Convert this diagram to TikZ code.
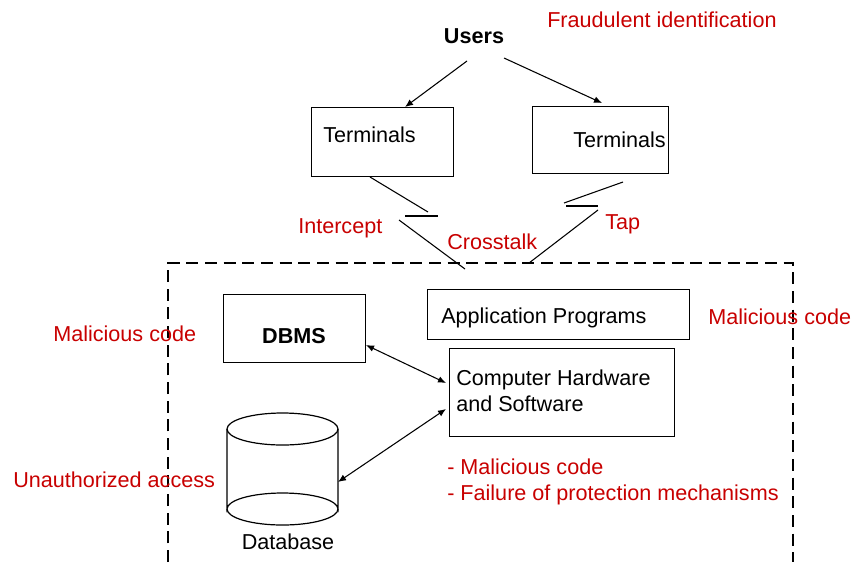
\documentclass[tikz,border=0pt]{standalone}
\usepackage{fontspec}
\setmainfont{Liberation Sans}
\usetikzlibrary{arrows.meta}
\definecolor{threat}{RGB}{200,0,0}
\begin{document}
\begin{tikzpicture}[x=0.75pt,y=-0.75pt,
  every node/.style={font=\fontsize{16.2}{21}\selectfont, inner sep=0pt},
  box/.style={draw, line width=0.9pt, anchor=north west},
  risk/.style={text=threat, anchor=base west},
  plain/.style={anchor=base west},
  link/.style={line width=0.8pt},
  arr/.style={line width=0.8pt, -{Latex[length=6pt,width=5pt]}},
  darr/.style={line width=0.8pt, {Latex[length=6pt,width=5pt]}-{Latex[length=6pt,width=5pt]}},
  fence/.style={line width=0.9pt, dash pattern=on 9pt off 5pt}]
\useasboundingbox (0,0) rectangle (852,562);

% users and terminals
\node[anchor=base] (users) at (474,43) {\bfseries Users};
\node[risk] (fraud) at (547,27) {Fraudulent identification};
\node[box, minimum width=142*0.75pt, minimum height=69*0.75pt] (term1) at (311,107) {};
\node[plain] (term1t) at (323,142) {Terminals};
\node[box, minimum width=136*0.75pt, minimum height=67*0.75pt] (term2) at (532,106) {};
\node[plain] (term2t) at (573,147) {Terminals};

\coordinate (u1) at (467,61);
\coordinate (u2) at (504,58);
\coordinate (t1in) at (405,107);
\coordinate (t2in) at (602,103);
\draw[arr] (u1) -- (t1in);
\draw[arr] (u2) -- (t2in);

% broken communication lines
\coordinate (a1) at (370,177);
\coordinate (a2) at (428,212);
\coordinate (a3) at (405,216);
\coordinate (a4) at (438,216);
\coordinate (a5) at (399,220);
\coordinate (a6) at (465,269);
\draw[link] (a1) -- (a2);
\draw[link] (a3) -- (a4);
\draw[link] (a5) -- (a6);
\coordinate (b1) at (623,182);
\coordinate (b2) at (564,203);
\coordinate (b3) at (566,206);
\coordinate (b4) at (598,206);
\coordinate (b5) at (598,210);
\coordinate (b6) at (529,263);
\draw[link] (b1) -- (b2);
\draw[link] (b3) -- (b4);
\draw[link] (b5) -- (b6);

\node[risk] (intercept) at (298,233) {Intercept};
\node[risk] (tap) at (605,229) {Tap};
\node[risk] (cross) at (447,249) {Crosstalk};

% system boundary
\coordinate (f1) at (168,562);
\coordinate (f2) at (168,263);
\coordinate (f3) at (793,263);
\coordinate (f4) at (793,562);
\draw[fence] (f1) -- (f2) -- (f3) -- (f4);

% inner components
\node[box, minimum width=142*0.75pt, minimum height=68*0.75pt] (dbms) at (223,294) {};
\node[anchor=base] (dbmst) at (294,343) {\bfseries DBMS};
\node[box, minimum width=262*0.75pt, minimum height=50*0.75pt] (app) at (427,289) {};
\node[plain] (appt) at (441,323) {Application Programs};
\node[box, minimum width=225*0.75pt, minimum height=88*0.75pt] (hw) at (449,348) {};
\node[plain] (hwt1) at (456,385) {Computer Hardware};
\node[plain] (hwt2) at (456,411) {and Software};

\node[risk] (mal1) at (53,341) {Malicious code};
\node[risk] (mal2) at (708,324) {Malicious code};
\node[risk] (unauth) at (13,487) {Unauthorized access};
\node[risk] (mal3) at (447,474) {- Malicious code};
\node[risk] (fail) at (447,500) {- Failure of protection mechanisms};

% database cylinder
\coordinate (cyl) at (282.5,429);
\draw[line width=0.9pt] (227,429) -- (227,509) arc[start angle=180,end angle=360,x radius=55.5,y radius=16] -- (338,429);
\draw[line width=0.9pt] (cyl) ellipse[x radius=55.5,y radius=16];
\draw[line width=0.9pt] (338,509) arc[start angle=0,end angle=180,x radius=55.5,y radius=16];
\node[anchor=base] (dbt) at (288,549) {Database};

% data paths
\coordinate (d1) at (366,345);
\coordinate (h1) at (446,383);
\coordinate (d2) at (338,482);
\coordinate (h2) at (446,409);
\draw[darr] (d1) -- (h1);
\draw[darr] (d2) -- (h2);
\end{tikzpicture}
\end{document}
